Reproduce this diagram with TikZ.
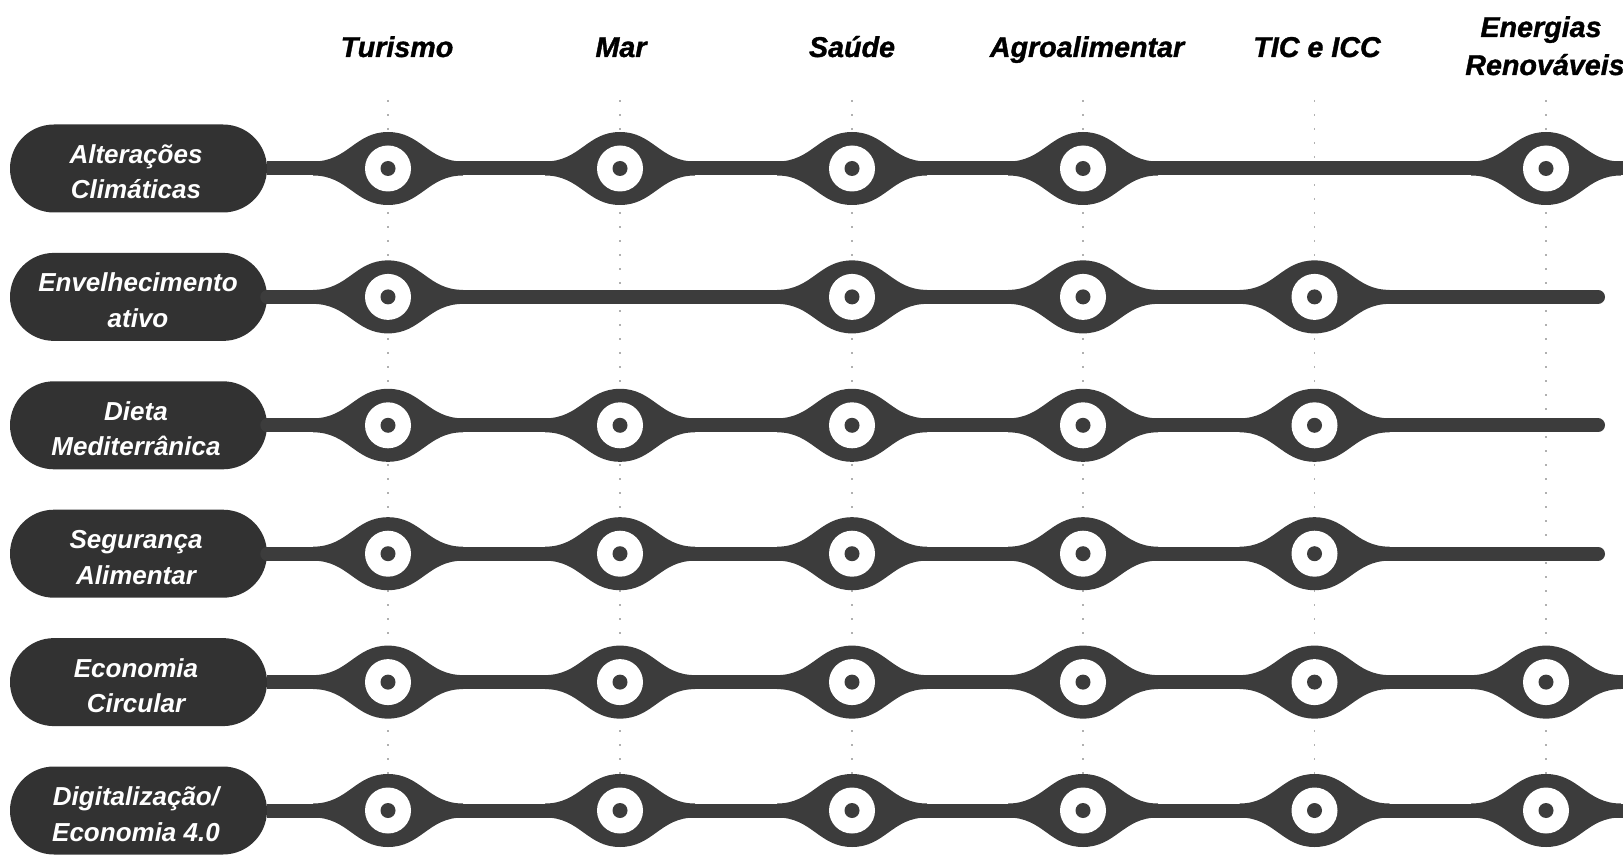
\documentclass[tikz,border=0pt]{standalone}
\usepackage{fontspec}
\setsansfont{Liberation Sans}
\newfontfamily\hdrfont{Liberation Sans}[BoldItalicFeatures={FakeBold=1.2}]
\usetikzlibrary{shapes.misc}
\definecolor{dk}{HTML}{3C3C3C}
\definecolor{pl}{HTML}{323232}
\definecolor{dotc}{HTML}{B0B0B0}
\newcommand\myblob[2]{\fill[dk] (#1-75,#2-7) .. controls (#1-40,#2-7) and (#1-33,#2-36.5) .. (#1,#2-36.5) .. controls (#1+33,#2-36.5) and (#1+40,#2-7) .. (#1+75,#2-7) -- (#1+75,#2+7) .. controls (#1+40,#2+7) and (#1+33,#2+36.5) .. (#1,#2+36.5) .. controls (#1-33,#2+36.5) and (#1-40,#2+7) .. (#1-75,#2+7) -- cycle;}
\newcommand\station[3]{\myblob{#1}{#2}\node[ring] (#3) at (#1,#2) {};\node[hub] (#3c) at (#1,#2) {};}
\tikzset{
  ring/.style={circle,fill=white,draw=none,minimum size=34.5pt,inner sep=0pt},
  hub/.style={circle,fill=dk,draw=none,minimum size=11.25pt,inner sep=0pt},
  pill/.style={rounded rectangle,fill=pl,draw=none,minimum width=192.75pt,minimum height=66pt,inner sep=0pt},
  ptxt/.style={anchor=base,text=white,inner sep=0pt,font=\sffamily\bfseries\itshape\fontsize{19.5pt}{27pt}\selectfont},
  hdr/.style={anchor=base,text=black,inner sep=0pt,font=\hdrfont\bfseries\itshape\fontsize{21.5pt}{28.5pt}\selectfont},
  conn/.style={draw=dk,line width=10.5pt},
  dotl/.style={draw=dotc,line width=1.2pt,dash pattern=on 1.2pt off 9.3pt},
}
\begin{document}
\begin{tikzpicture}[x=0.75pt,y=-0.75pt]
\useasboundingbox (0,0) rectangle (1623,855);
\clip (0,0) rectangle (1623,855);
% guide lines
\foreach \cx/\n in {388/1,620/2,852/3,1083/4,1314.5/5,1546/6}{
  \coordinate (gt\n) at (\cx,100);
  \coordinate (gb\n) at (\cx,855);
  \draw[dotl] (gt\n) -- (gb\n);
}
% headers
\node[hdr] (hTur) at (397,57) {Turismo};
\node[hdr] (hMar) at (621,57) {Mar};
\node[hdr] (hSau) at (852,57) {Saúde};
\node[hdr] (hAgr) at (1087,57) {Agroalimentar};
\node[hdr] (hTic) at (1317,57) {TIC e ICC};
\node[hdr] (hEn1) at (1541,37) {Energias};
\node[hdr] (hEn2) at (1545,75) {Renováveis};
% pills
\node[pill] (p1) at (138.5,168.5) {};
\node[pill] (p2) at (138.5,296.9) {};
\node[pill] (p3) at (138.5,425.3) {};
\node[pill] (p4) at (138.5,553.7) {};
\node[pill] (p5) at (138.5,682.1) {};
\node[pill] (p6) at (138.5,810.5) {};
% end coordinates
\coordinate (e1) at (1660,168.5);
\coordinate (e2) at (1598,296.9);
\coordinate (e3) at (1598,425.3);
\coordinate (e4) at (1598,553.7);
\coordinate (e5) at (1660,682.1);
\coordinate (e6) at (1660,810.5);
\draw[conn] (p1.east) -- (e1);
\draw[conn,line cap=round] (p2.east) -- (e2);
\draw[conn,line cap=round] (p3.east) -- (e3);
\draw[conn,line cap=round] (p4.east) -- (e4);
\draw[conn] (p5.east) -- (e5);
\draw[conn] (p6.east) -- (e6);
% row 1
\station{388}{168.5}{s11}\station{620}{168.5}{s12}\station{852}{168.5}{s13}\station{1083}{168.5}{s14}\station{1546}{168.5}{s16}
% row 2
\station{388}{296.9}{s21}\station{852}{296.9}{s23}\station{1083}{296.9}{s24}\station{1314.5}{296.9}{s25}
% row 3
\station{388}{425.3}{s31}\station{620}{425.3}{s32}\station{852}{425.3}{s33}\station{1083}{425.3}{s34}\station{1314.5}{425.3}{s35}
% row 4
\station{388}{553.7}{s41}\station{620}{553.7}{s42}\station{852}{553.7}{s43}\station{1083}{553.7}{s44}\station{1314.5}{553.7}{s45}
% row 5
\station{388}{682.1}{s51}\station{620}{682.1}{s52}\station{852}{682.1}{s53}\station{1083}{682.1}{s54}\station{1314.5}{682.1}{s55}\station{1546}{682.1}{s56}
% row 6
\station{388}{810.5}{s61}\station{620}{810.5}{s62}\station{852}{810.5}{s63}\station{1083}{810.5}{s64}\station{1314.5}{810.5}{s65}\station{1546}{810.5}{s66}
% pill texts
\node[ptxt] (p1a) at (136,163.5) {Alterações};
\node[ptxt] (p1b) at (136,199) {Climáticas};
\node[ptxt] (p2a) at (138,291.9) {Envelhecimento};
\node[ptxt] (p2b) at (138,327.4) {ativo};
\node[ptxt] (p3a) at (136,420.3) {Dieta};
\node[ptxt] (p3b) at (136,455.8) {Mediterrânica};
\node[ptxt] (p4a) at (136,548.7) {Segurança};
\node[ptxt] (p4b) at (136,584.2) {Alimentar};
\node[ptxt] (p5a) at (136,677.1) {Economia};
\node[ptxt] (p5b) at (136,712.6) {Circular};
\node[ptxt] (p6a) at (136,805.5) {Digitalização/};
\node[ptxt] (p6b) at (136,841) {Economia 4.0};
\end{tikzpicture}
\end{document}
